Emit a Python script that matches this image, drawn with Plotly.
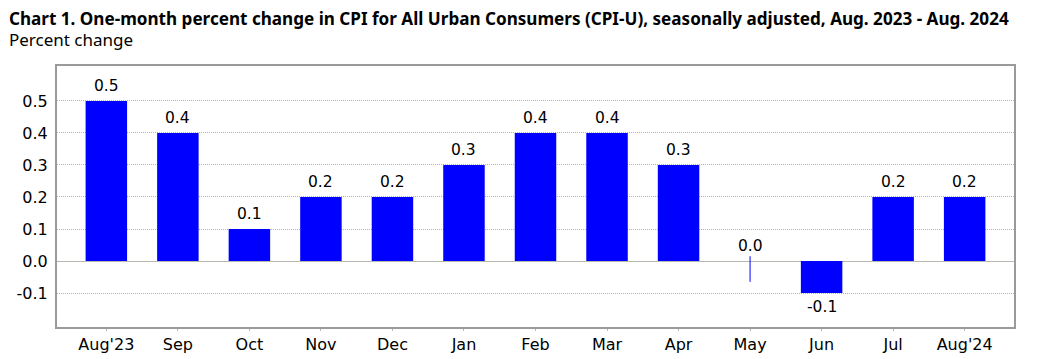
import plotly.graph_objects as go

months = ["Aug'23", "Sep", "Oct", "Nov", "Dec", "Jan", "Feb", "Mar", "Apr", "May", "Jun", "Jul", "Aug'24"]
values = [0.5, 0.4, 0.1, 0.2, 0.2, 0.3, 0.4, 0.4, 0.3, 0.0, -0.1, 0.2, 0.2]
labels = ["0.5", "0.4", "0.1", "0.2", "0.2", "0.3", "0.4", "0.4", "0.3", "0.0", "-0.1", "0.2", "0.2"]
may_stub_x = ["May", "May"]
may_stub_y = [0.015, -0.065]
y_ticks = [-0.1, 0.0, 0.1, 0.2, 0.3, 0.4, 0.5]
y_tick_text = ["-0.1", "0.0", "0.1", "0.2", "0.3", "0.4", "0.5"]

BLUE = "#0000FF"
FONT = "DejaVu Sans"

# page body has an 8px margin; the figure is sized to compensate
ML, MR, MT, MB = 49, 24, 58, 32
W, H = 1030, 351
PW, PH = W - ML - MR, H - MT - MB

fig = go.Figure()
fig.add_trace(go.Bar(
    x=months, y=values, width=0.58,
    marker=dict(color=BLUE, line=dict(width=0)),
    hoverinfo="skip",
))
fig.add_trace(go.Scatter(
    x=may_stub_x, y=may_stub_y, mode="lines",
    line=dict(color=BLUE, width=1), hoverinfo="skip",
))

for m, v, t in zip(months, values, labels):
    fig.add_annotation(
        x=m, y=v, text=t, showarrow=False,
        yshift=15 if v >= 0 else -14,
        font=dict(family=FONT, size=15.5, color="#000"),
    )

fig.update_layout(
    width=W, height=H,
    margin=dict(l=ML, r=MR, t=MT, b=MB),
    paper_bgcolor="white", plot_bgcolor="white",
    showlegend=False,
)
fig.add_annotation(
    text="<b>Chart 1. One-month percent change in CPI for All Urban Consumers (CPI-U), seasonally adjusted, Aug. 2023 - Aug. 2024</b>",
    xref="paper", yref="paper", x=-(ML + 1) / PW, y=1 + (MT - 10) / PH,
    xanchor="left", yanchor="middle", showarrow=False,
    font=dict(family="Noto Sans", size=17.1, color="#000"),
)
fig.add_annotation(
    text="Percent change",
    xref="paper", yref="paper", x=-(ML + 1) / PW, y=1 + (MT - 31) / PH,
    xanchor="left", yanchor="middle", showarrow=False,
    font=dict(family="Noto Sans", size=17, color="#000"),
)

fig.update_xaxes(
    range=[-0.69, 12.69], automargin=False,
    showline=True, linecolor="#9a9a9a", linewidth=2, mirror=True,
    ticks="outside", ticklen=2, tickcolor="#bbbbbb",
    tickfont=dict(family=FONT, size=16, color="#000"),
    showgrid=False,
)
fig.update_yaxes(
    range=[-0.206, 0.609], automargin=False,
    tickvals=y_ticks, ticktext=y_tick_text,
    showline=True, linecolor="#9a9a9a", linewidth=2, mirror=True,
    gridcolor="#b8b0b8", griddash="1px,1px", gridwidth=1,
    zeroline=True, zerolinecolor="#b8b8b0", zerolinewidth=1,
    tickfont=dict(family=FONT, size=16, color="#000"),
    ticks="", ticklabelstandoff=4,
)

fig.write_html("out.html")
